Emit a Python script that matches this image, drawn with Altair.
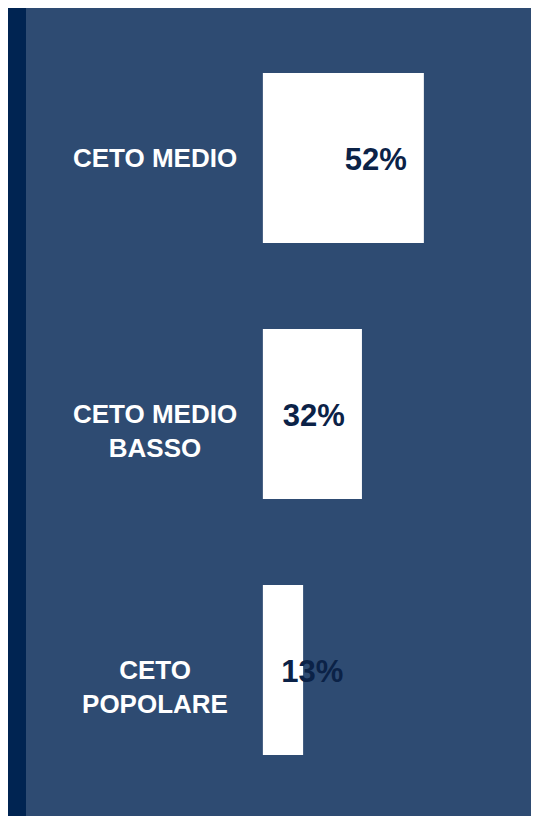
import altair as alt
import pandas as pd

categories = ["CETO MEDIO", "CETO MEDIO\nBASSO", "CETO\nPOPOLARE"]
values = [52, 32, 13]
value_labels = ["52%", "32%", "13%"]

df = pd.DataFrame({"cat": categories, "value": values, "label": value_labels, "zero": [0, 0, 0]})

NAVY = "#002452"
PANEL = "#2e4b72"
TEXT_DARK = "#0b2247"

x_scale = alt.Scale(domain=[-76.5, 86.6], nice=False, zero=False)
y_scale = alt.Scale(domain=categories, paddingInner=0.336, paddingOuter=0.246, align=0.516)

base = alt.Chart(df).encode(
    y=alt.Y("cat:N", scale=y_scale, sort=categories, axis=None)
)

bars = base.mark_bar(color="white", cornerRadius=0).encode(
    x=alt.X("zero:Q", scale=x_scale, axis=None),
    x2="value:Q",
)

vals = base.transform_calculate(
    pos="max(datum.value - 5.5, 26)"
).mark_text(
    align="right", baseline="middle", font="Liberation Sans", fontWeight="bold",
    fontSize=31, color=TEXT_DARK, dy=3
).encode(
    x=alt.X("pos:Q", scale=x_scale, axis=None),
    text="label:N",
)

cats = base.mark_text(
    align="center", baseline="middle", font="Liberation Sans", fontWeight="bold",
    fontSize=26, color="white", lineBreak="\n", lineHeight=34, dy=1
).encode(
    x=alt.value(129),
    text="cat:N",
)

chart = alt.layer(bars, vals, cats).properties(
    width=505, height=808,
    background=NAVY,
    padding={"left": 18, "top": 0, "right": 0, "bottom": 0},
    autosize=alt.AutoSizeParams(type="none"),
).configure_view(fill=PANEL, stroke=None)

chart.save("out.html", embed_options={"renderer": "svg", "actions": False})
